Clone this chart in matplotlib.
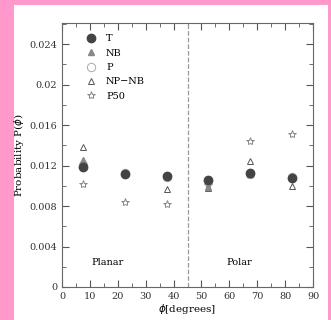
import matplotlib
matplotlib.use('agg')
import matplotlib.pyplot as plt
from matplotlib.patches import Rectangle
from matplotlib.ticker import MultipleLocator

phi = [7.5, 22.5, 37.5, 52.5, 67.5, 82.5]
prob_T = [0.0119, 0.0112, 0.0110, 0.0106, 0.0113, 0.0108]
prob_NB = [0.0126, 0.0114, 0.0110, 0.0099, 0.0112, 0.0110]
prob_P = [0.0121, 0.0113, 0.0109, 0.0105, 0.0112, 0.0109]
prob_NPNB = [0.0138, 0.0113, 0.0097, 0.0098, 0.0125, 0.0100]
prob_P50 = [0.0102, 0.0084, 0.0082, 0.0101, 0.0144, 0.0151]

plt.rcParams['font.family'] = 'DejaVu Serif'

fig = plt.figure(figsize=(3.31, 3.20), dpi=100)
fig.patch.set_facecolor('#ff99cc')
fig.patches.append(Rectangle((14 / 331, 0), 314 / 331, 315 / 320,
                             transform=fig.transFigure, facecolor='white',
                             edgecolor='none', zorder=-5))

ax = fig.add_axes([62 / 331, 1 - 287 / 320, 251 / 331, 264 / 320])
ax.set_zorder(2)

ax.plot(phi, prob_P50, ls='none', marker='*', ms=6, mfc='none', mec='#888888', mew=0.7, label='P50')
ax.plot(phi, prob_NPNB, ls='none', marker='^', ms=5, mfc='none', mec='#555555', mew=0.7, label='NP\u2212NB')
ax.plot(phi, prob_P, ls='none', marker='o', ms=6, mfc='none', mec='#aaaaaa', mew=0.7, label='P')
ax.plot(phi, prob_NB, ls='none', marker='^', ms=5, color='#888888', label='NB')
ax.plot(phi, prob_T, ls='none', marker='o', ms=6, color='#444444', label='T')

ax.axvline(45, color='#999999', ls='--', lw=0.9)

handles, labels = ax.get_legend_handles_labels()
ax.legend(handles[::-1], labels[::-1], loc='upper left', frameon=False,
          fontsize=7, handletextpad=0.6, labelspacing=0.55,
          bbox_to_anchor=(0.04, 0.99))

ax.text(16.5, 0.0024, 'Planar', fontsize=7, ha='center', va='center')
ax.text(63.5, 0.0024, 'Polar', fontsize=7, ha='center', va='center')

ax.set_xlim(0, 90)
ax.set_ylim(0, 0.0261)
ax.xaxis.set_major_locator(MultipleLocator(10))
ax.xaxis.set_minor_locator(MultipleLocator(5))
ax.yaxis.set_major_locator(MultipleLocator(0.004))
ax.yaxis.set_minor_locator(MultipleLocator(0.002))
ax.set_yticks([0, 0.004, 0.008, 0.012, 0.016, 0.02, 0.024])
ax.set_yticklabels(['0', '0.004', '0.008', '0.012', '0.016', '0.02', '0.024'])
ax.tick_params(which='both', direction='in', top=True, right=True,
               labelsize=7, colors='#555555', labelcolor='#333333')
ax.tick_params(which='major', length=5)
ax.tick_params(which='minor', length=3)
for s in ax.spines.values():
    s.set_color('#666666')

ax.set_xlabel('$\\phi$[degrees]', fontsize=7.5, labelpad=1)
ax.set_ylabel('Probability P($\\phi$)', fontsize=7.5, labelpad=2)

fig.savefig('out.png', dpi=100, facecolor=fig.get_facecolor())
